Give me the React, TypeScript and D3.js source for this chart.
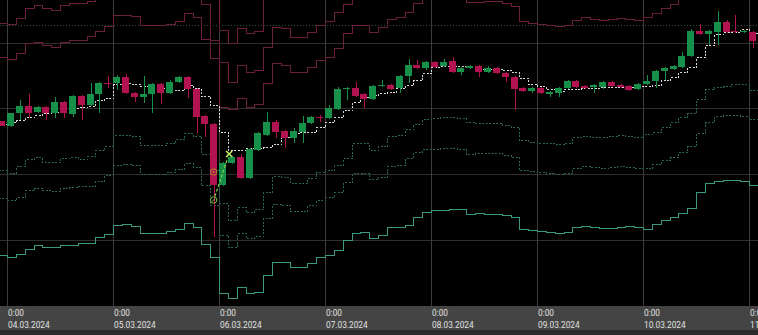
import React, { useEffect } from 'react';
import * as d3 from 'd3';

// 2-hour candles, first candle 03.03.2024 22:00 (UTC)
const firstCandle = Date.UTC(2024, 2, 3, 22);
const candleHours = 2;

const opens = [
  185, 180, 193, 200, 194, 199, 193, 204, 192, 210,
  201, 212, 223, 223, 229, 213, 209, 212, 222, 213,
  224, 229, 217, 190, 182, 121, 143, 149, 128, 156,
  171, 184, 175, 168, 174, 183, 189, 188, 197, 217,
  218, 212, 207, 220, 221, 218, 230, 241, 238, 244,
  240, 245, 234, 238, 240, 234, 238, 233, 229, 218,
  215, 218, 212, 213, 218, 225, 220, 219, 219, 224,
  221, 220, 217, 222, 225, 235, 237, 239, 250, 275,
  272, 274, 284, 275, 274, 274,
];
const highs = [
  185, 193, 206, 212, 200, 200, 209, 205, 211, 211,
  223, 224, 230, 231, 232, 214, 230, 223, 223, 226,
  230, 230, 218, 191, 183, 144, 150, 152, 158, 174,
  194, 186, 176, 178, 190, 190, 191, 201, 219, 219,
  224, 213, 221, 226, 222, 231, 247, 246, 245, 245,
  247, 249, 239, 241, 241, 240, 239, 234, 230, 219,
  219, 219, 215, 219, 226, 226, 221, 222, 225, 225,
  222, 221, 223, 231, 236, 239, 241, 254, 277, 282,
  276, 295, 286, 291, 276, 275,
];
const lows = [
  180, 179, 186, 189, 193, 186, 188, 188, 189, 186,
  200, 193, 218, 216, 212, 204, 203, 193, 202, 212,
  223, 208, 173, 169, 69, 120, 142, 127, 127, 155,
  170, 168, 158, 163, 163, 182, 184, 187, 196, 206,
  209, 198, 206, 219, 216, 213, 223, 237, 236, 238,
  239, 233, 231, 237, 229, 233, 232, 224, 196, 214,
  213, 212, 209, 209, 217, 218, 217, 213, 217, 219,
  218, 215, 216, 221, 218, 226, 236, 238, 249, 271,
  261, 261, 273, 273, 273, 258,
];
const closes = [
  180, 193, 200, 193, 199, 193, 204, 193, 210, 201,
  212, 223, 222, 229, 213, 209, 212, 222, 213, 224,
  229, 217, 189, 182, 121, 143, 149, 128, 157, 173,
  184, 174, 168, 175, 183, 189, 188, 198, 217, 218,
  210, 207, 220, 221, 217, 230, 241, 238, 244, 239,
  244, 234, 238, 240, 234, 238, 233, 229, 217, 215,
  218, 213, 214, 218, 225, 219, 218, 221, 224, 220,
  219, 216, 222, 225, 235, 238, 240, 250, 275, 272,
  275, 284, 274, 274, 275, 265,
];

// trailing midline (white dashed)
const midline = [
  182, 184, 186, 189, 191, 193, 194, 196, 198, 199,
  200, 206, 208, 222, 223, 222, 220, 219, 218, 216,
  216, 221, 218, 210, 201, 174, 156, 156, 158, 158,
  159, 162, 169, 173, 174, 174, 179, 184, 189, 196,
  204, 209, 211, 213, 214, 218, 221, 226, 233, 239,
  240, 240, 240, 239, 237, 237, 237, 236, 234, 228,
  222, 220, 217, 215, 217, 217, 218, 218, 219, 219,
  219, 219, 220, 220, 221, 226, 229, 234, 239, 249,
  261, 272, 274, 274, 277, 273,
];

// upper bands (red)
const upper3 = [
  321, 320, 326, 336, 339, 336, 334, 339, 341, 341,
  343, 348, 354, 364, 364, 363, 354, 354, 354, 355,
  358, 366, 362, 340, 316, 276, 263, 278, 273, 275,
  314, 321, 320, 311, 311, 316, 323, 327, 336, 344,
  353, 353, 352, 356, 364, 366, 371, 380, 386, 386,
  387, 387, 386, 381, 381, 382, 382, 380, 377, 362,
  360, 359, 358, 357, 358, 363, 366, 364, 363, 364,
  365, 364, 363, 366, 370, 375, 379, 385, 389, 403,
  413, 415, 416, 418, 418, 413,
];
const upper2 = [
  283, 282, 288, 298, 301, 298, 296, 301, 303, 303,
  305, 310, 316, 326, 326, 325, 316, 316, 316, 317,
  320, 328, 324, 302, 266, 244, 224, 241, 234, 236,
  259, 279, 278, 269, 269, 274, 281, 285, 294, 302,
  311, 311, 310, 314, 322, 324, 329, 338, 344, 344,
  345, 345, 344, 339, 339, 340, 340, 338, 335, 320,
  318, 317, 316, 315, 316, 321, 324, 322, 321, 322,
  323, 322, 321, 324, 328, 333, 337, 343, 347, 361,
  371, 373, 374, 376, 376, 371,
];
const upper1 = [
  249, 247, 253, 263, 264, 261, 259, 264, 266, 266,
  270, 275, 280, 291, 291, 290, 281, 281, 281, 282,
  285, 293, 289, 267, 248, 199, 197, 208, 199, 202,
  223, 243, 241, 234, 234, 239, 246, 249, 258, 273,
  281, 281, 274, 279, 287, 289, 294, 303, 309, 311,
  312, 312, 311, 304, 304, 305, 305, 303, 300, 285,
  283, 282, 281, 280, 281, 286, 289, 287, 286, 287,
  288, 287, 286, 289, 293, 298, 302, 308, 314, 326,
  336, 338, 339, 341, 341, 336,
];
// lower bands (green)
const lower1 = [
  136, 133, 140, 147, 149, 144, 144, 148, 149, 147,
  150, 156, 160, 171, 171, 170, 161, 161, 161, 163,
  167, 173, 170, 152, 136, 103, 86, 99, 94, 97,
  114, 130, 129, 123, 123, 128, 134, 136, 141, 148,
  163, 163, 156, 160, 170, 171, 177, 182, 187, 188,
  189, 189, 188, 184, 183, 183, 183, 181, 179, 166,
  164, 163, 163, 162, 163, 169, 170, 169, 169, 170,
  171, 170, 169, 172, 174, 179, 184, 189, 193, 207,
  217, 219, 220, 222, 222, 216,
];
const lower2 = [
  108, 106, 109, 116, 118, 116, 115, 118, 119, 120,
  120, 125, 131, 141, 142, 141, 132, 132, 132, 134,
  137, 143, 139, 121, 101, 71, 59, 73, 68, 70,
  88, 102, 101, 95, 95, 101, 106, 109, 114, 124,
  133, 133, 127, 129, 140, 141, 148, 154, 157, 157,
  158, 158, 157, 152, 153, 153, 153, 151, 149, 136,
  135, 134, 133, 132, 133, 138, 140, 139, 138, 139,
  140, 139, 138, 138, 142, 146, 149, 154, 160, 173,
  184, 190, 191, 191, 190, 187,
];
const lower3 = [
  51, 49, 52, 57, 61, 59, 59, 61, 61, 63,
  63, 69, 72, 81, 82, 80, 73, 73, 73, 75,
  77, 83, 79, 62, 49, 13, 8, 19, 13, 14,
  31, 44, 44, 39, 39, 43, 49, 51, 56, 66,
  73, 74, 68, 71, 79, 79, 81, 89, 94, 96,
  96, 97, 97, 92, 93, 92, 92, 91, 89, 77,
  76, 75, 74, 73, 74, 79, 80, 79, 78, 78,
  79, 80, 79, 77, 82, 86, 89, 93, 98, 114,
  123, 125, 126, 126, 125, 121,
];

const priceGrid = [66, 132, 198, 263];
const alertLevel = 281;

// trade markers
const orderMark = { time: Date.UTC(2024, 2, 5, 22), price: 134 };
const entryMark = { time: Date.UTC(2024, 2, 5, 22), price: 106 };
const exitMark = { time: Date.UTC(2024, 2, 6, 1, 30), price: 152 };

const axisStart = Date.UTC(2024, 2, 4);
const axisEnd = Date.UTC(2024, 2, 11);

const W = 758;
const H = 335;
const PLOT_H = 306;

export default function App() {
  useEffect(() => {
    document.body.style.margin = '0';
    document.body.style.background = '#000';
  }, []);

  const n = opens.length;
  const times = d3.range(n + 1).map((i) => new Date(firstCandle + i * candleHours * 3600e3));
  const x = d3.scaleUtc().domain([new Date(axisStart), new Date(axisEnd)]).range([7, 749]);
  const y = d3.scaleLinear().domain([0, 306]).range([PLOT_H, 0]);
  const bodyW = 7;
  const half = 3.5;

  const step = (vals: number[]) =>
    d3
      .line<number>()
      .x((_, i) => Math.round(x(times[i])) + 0.5)
      .y((v) => Math.round(y(v)) + 0.5)
      .curve(d3.curveStepAfter)([...vals, vals[vals.length - 1]]) || '';

  const days = d3.utcDay.range(new Date(axisStart), new Date(axisEnd + 3600e3));
  const fmtTime = d3.utcFormat('%-H:%M');
  const fmtDate = d3.utcFormat('%d.%m.%Y');

  const bull = '#17914a';
  const bear = '#b0134f';

  const ox = x(new Date(orderMark.time)) + half;
  const exX = x(new Date(exitMark.time)) + half;
  const enX = x(new Date(entryMark.time)) + half;
  const enY = y(entryMark.price);
  const exY = y(exitMark.price);
  const dx = exX - enX;
  const dy = exY - enY;
  const len = Math.hypot(dx, dy);

  return (
    <svg
      width={W}
      height={H}
      style={{ position: 'fixed', left: 0, top: 0, display: 'block', background: '#000' }}
    >
      <defs>
        <clipPath id="plot">
          <rect x={0} y={0} width={W} height={PLOT_H} />
        </clipPath>
      </defs>
      <rect x={0} y={0} width={W} height={PLOT_H} fill="#000" />
      <g clipPath="url(#plot)">
        {priceGrid.map((p) => (
          <line
            key={p}
            x1={0}
            x2={W}
            y1={Math.round(y(p)) + 0.5}
            y2={Math.round(y(p)) + 0.5}
            stroke="#2e2e2e"
            strokeWidth={1}
          />
        ))}
        {days.map((d) => (
          <line
            key={+d}
            x1={Math.round(x(d)) + 0.5}
            x2={Math.round(x(d)) + 0.5}
            y1={0}
            y2={PLOT_H}
            stroke="#3d3d3d"
            strokeWidth={1}
          />
        ))}
        <line
          x1={0}
          x2={W}
          y1={Math.round(y(alertLevel)) + 0.5}
          y2={Math.round(y(alertLevel)) + 0.5}
          stroke="#30503f"
          strokeWidth={1}
          strokeDasharray="1,2"
        />
        {[upper3, upper2, upper1].map((s, k) => (
          <path key={'u' + k} d={step(s)} fill="none" stroke="#6a1d3f" strokeWidth={1} shapeRendering="crispEdges" />
        ))}
        {[lower1, lower2].map((s, k) => (
          <path
            key={'l' + k}
            d={step(s)}
            fill="none"
            stroke="#2a6353"
            strokeWidth={1}
            strokeDasharray="2,1.5"
            shapeRendering="crispEdges"
          />
        ))}
        <path d={step(lower3)} fill="none" stroke="#3b9883" strokeWidth={1} shapeRendering="crispEdges" />
        <path
          d={step(midline)}
          fill="none"
          stroke="#d9d9d9"
          strokeWidth={1}
          strokeDasharray="2,1.5"
          shapeRendering="crispEdges"
        />
        {opens.map((o, i) => {
          const c = closes[i];
          const up = c >= o;
          const col = up ? bull : bear;
          const x0 = Math.round(x(times[i]));
          const top = Math.round(y(Math.max(o, c)));
          const bot = Math.round(y(Math.min(o, c)));
          return (
            <g key={i}>
              <line
                x1={x0 + half + 0.5}
                x2={x0 + half + 0.5}
                y1={Math.round(y(highs[i]))}
                y2={Math.round(y(lows[i]))}
                stroke={col}
                strokeWidth={1}
                shapeRendering="crispEdges"
              />
              <rect x={x0} y={top} width={bodyW} height={Math.max(1, bot - top)} fill={col} shapeRendering="crispEdges" />
            </g>
          );
        })}
        <line
          x1={enX + (dx / len) * 4}
          y1={enY + (dy / len) * 4}
          x2={exX - (dx / len) * 4}
          y2={exY - (dy / len) * 4}
          stroke="#86d24a"
          strokeWidth={1.2}
          strokeDasharray="3,2"
        />
        <g fill="none" strokeWidth={1}>
          <circle cx={ox} cy={y(orderMark.price)} r={3.2} stroke="#b58a2c" />
          <circle cx={ox} cy={y(orderMark.price)} r={0.9} fill="#b58a2c" stroke="none" />
          <circle cx={enX} cy={enY} r={3.2} stroke="#7cc242" />
          <line x1={enX - 1.5} y1={enY + 1.5} x2={enX + 1.5} y2={enY - 1.5} stroke="#7cc242" />
          <line x1={exX - 3} y1={exY - 3} x2={exX + 3} y2={exY + 3} stroke="#c4f06a" strokeWidth={1.6} />
          <line x1={exX - 3} y1={exY + 3} x2={exX + 3} y2={exY - 3} stroke="#c4f06a" strokeWidth={1.6} />
        </g>
      </g>
      <rect x={0} y={PLOT_H} width={W} height={24} fill="#444444" />
      <rect x={0} y={PLOT_H + 24} width={W} height={H - PLOT_H - 24} fill="#2b2b2b" />
      <g fill="#e2e2e2" fontFamily="Roboto, 'Open Sans', sans-serif" fontSize={8.3}>
        {days.map((d) => (
          <g key={+d}>
            <text x={Math.round(x(d)) + 1} y={316}>
              {fmtTime(d)}
            </text>
            <text x={Math.round(x(d)) + 1} y={327.5}>
              {fmtDate(d)}
            </text>
          </g>
        ))}
      </g>
    </svg>
  );
}
